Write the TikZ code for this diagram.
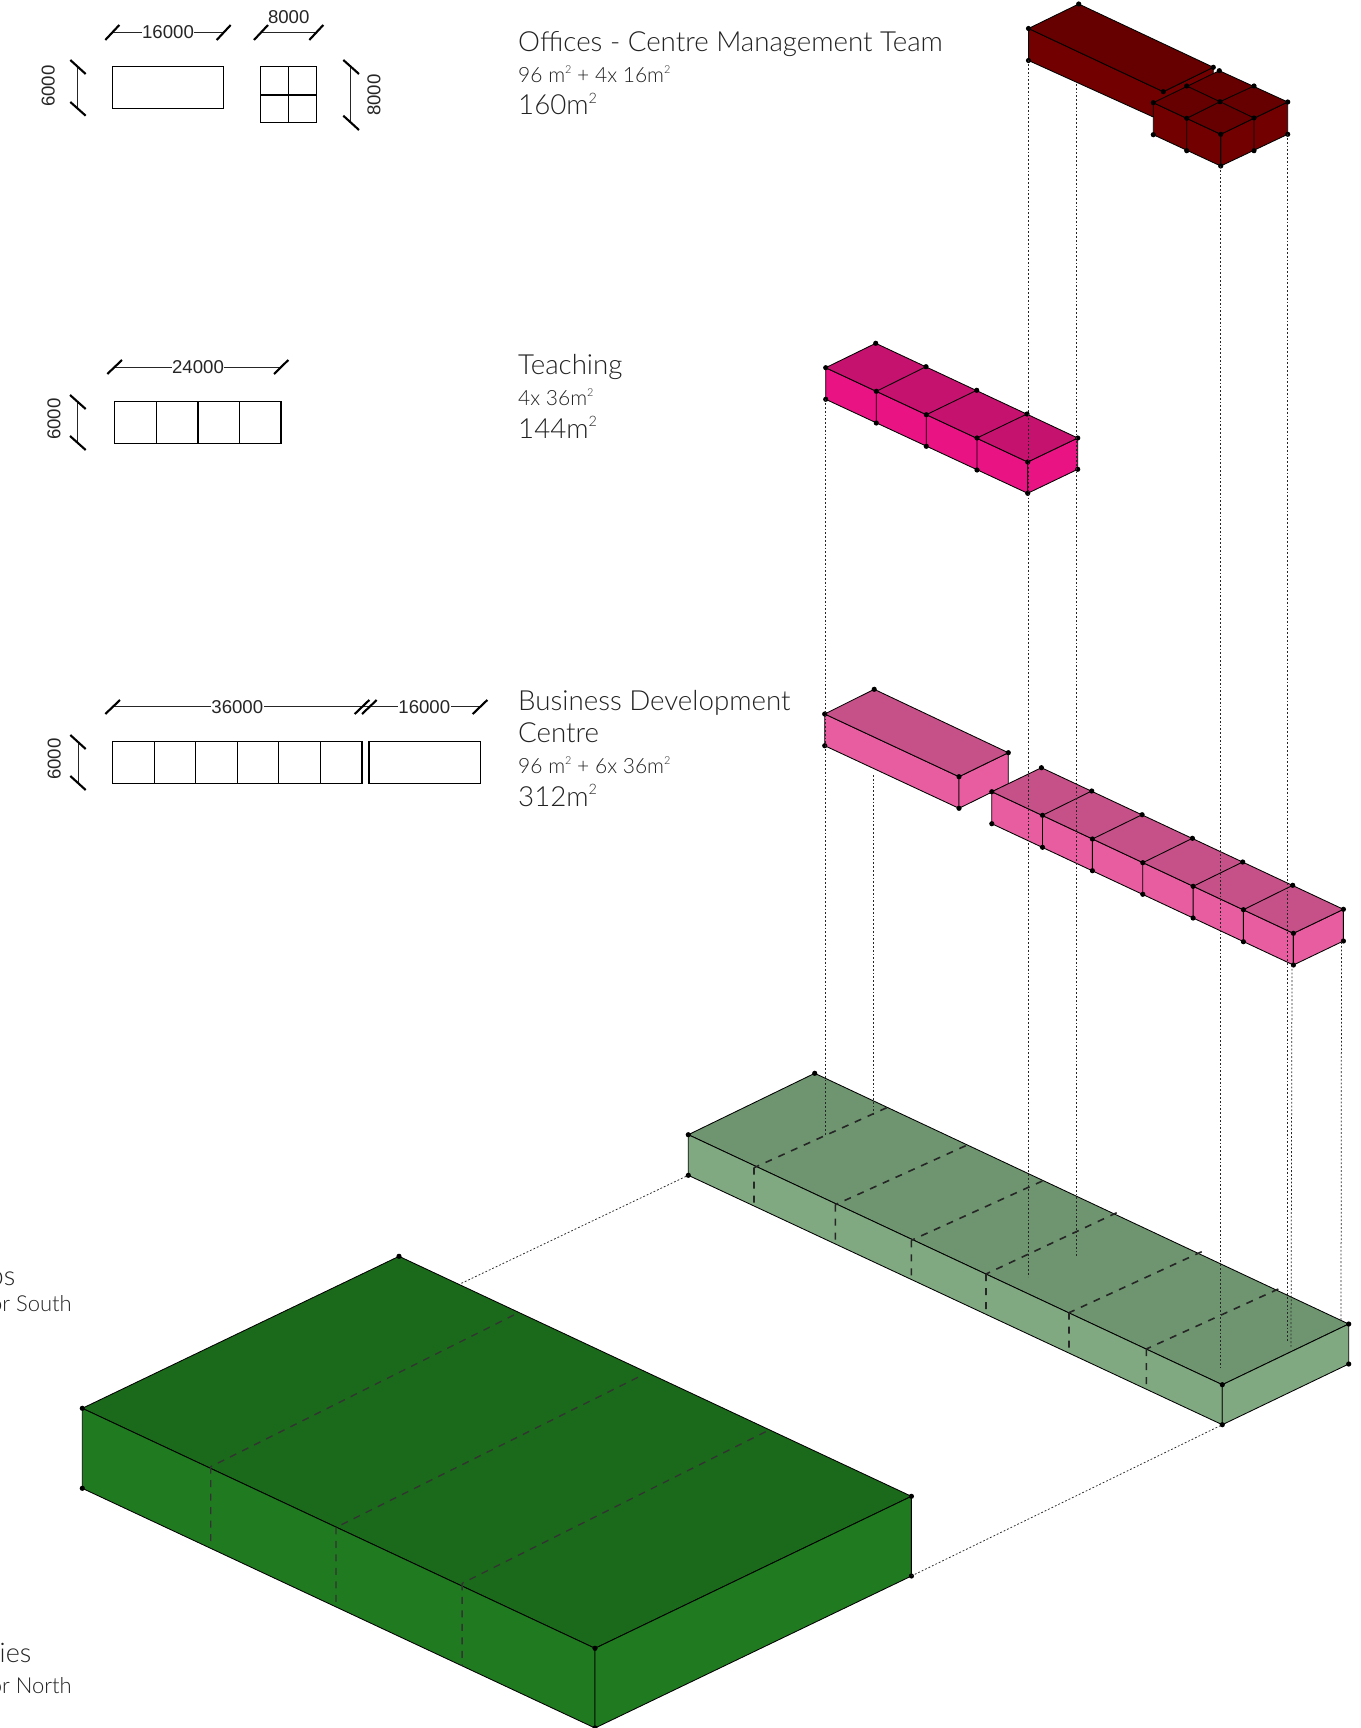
\documentclass[tikz,border=0pt]{standalone}
\usepackage{fontspec}
\setmainfont{Lato Light}
\newfontfamily\dimfont{Liberation Sans}
\definecolor{txtc}{HTML}{222222}
\definecolor{redtop}{HTML}{660000}
\definecolor{redside}{HTML}{730000}
\definecolor{magtop}{HTML}{C6126F}
\definecolor{magside}{HTML}{E91384}
\definecolor{pinktop}{HTML}{C55188}
\definecolor{pinkside}{HTML}{E75DA0}
\definecolor{sagetop}{HTML}{6E9470}
\definecolor{sageside}{HTML}{80A981}
\definecolor{greentop}{HTML}{1B691B}
\definecolor{greenside}{HTML}{207A20}
\newcommand{\sqm}{\raisebox{0.42em}{\scalebox{0.52}{2}}}
\newcommand{\dotmarks}[1]{\foreach \p in {#1}{\fill[black] (\p) circle (2.6);}}
\tikzset{
  edge/.style={draw=black,line width=0.85pt,line join=round},
  plan/.style={draw=black,line width=1.35pt,fill=white},
  dimline/.style={draw=black!85,line width=1.1pt},
  dimtick/.style={draw=black,line width=2.1pt},
  dimtxt/.style={font=\dimfont\fontsize{18.6}{20}\selectfont,text=black!85,fill=white,inner sep=0.5pt},
  dimtxtnf/.style={font=\dimfont\fontsize{18.6}{20}\selectfont,text=black!85,inner sep=0pt},
  title/.style={anchor=base west,inner sep=0pt,text=txtc,font=\fontsize{27.7}{30}\selectfont},
  subt/.style={anchor=base west,inner sep=0pt,text=txtc,font=\fontsize{21}{24}\selectfont},
  atitle/.style={anchor=base east,inner sep=0pt,text=txtc,font=\fontsize{27}{30}\selectfont},
  asub/.style={anchor=base east,inner sep=0pt,text=txtc,font=\fontsize{22}{24}\selectfont},
  projline/.style={draw=black!85,line width=0.75pt,dash pattern=on 1.8pt off 2pt},
  hiddenline/.style={draw=black!85,line width=1.6pt,dash pattern=on 7pt off 7pt},
  hiddendark/.style={draw=black!80,line width=1.3pt,dash pattern=on 7pt off 6.5pt}
}
\begin{document}
\begin{tikzpicture}[x=1pt,y=-1pt]
\useasboundingbox (0,0) rectangle (1360,1728);
\fill[white] (0,0) rectangle (1360,1728);
% ---------- plans and dimensions: row 1
\draw[plan] (112.3,66.7) rectangle (223.7,108.3);
\draw[plan] (260.7,66.7) rectangle (316.7,122.7);
\draw[plan] (288.7,66.7) -- (288.7,122.7) (260.7,95) -- (316.7,95);
\draw[dimline] (112.3,32.3) -- (223.7,32.3);
\draw[dimtick] (105.3,40) -- (119.3,25) (216.7,40) -- (230.7,25);
\node[dimtxt] (d16a) at (168,32.3) {16000};
\draw[dimline] (260.7,32.3) -- (316.7,32.3);
\draw[dimtick] (254,40) -- (268,25) (309.3,40) -- (323.3,25);
\node[dimtxtnf] (d8a) at (288.7,16.7) {8000};
\draw[dimline] (77.3,66.7) -- (77.3,108.3);
\draw[dimtick] (70.3,60) -- (85.7,74) (70.3,102) -- (85.7,115.7);
\node[dimtxtnf,rotate=90] (d6a) at (48.3,86) {6000};
\draw[dimline] (350.7,66.7) -- (350.7,122.7);
\draw[dimtick] (343.3,60) -- (359,74) (343.3,115.7) -- (359,130);
\node[dimtxtnf,rotate=90] (d8b) at (374,95) {8000};
% row 2
\draw[plan] (114.3,401.7) rectangle (281,443.7);
\draw[plan] (156.3,401.7) -- (156.3,443.7) (198,401.7) -- (198,443.7) (239.7,401.7) -- (239.7,443.7);
\draw[dimline] (114.3,367.3) -- (281,367.3);
\draw[dimtick] (107.3,374) -- (122,360) (274,374) -- (288.3,360);
\node[dimtxt] (d24) at (198,367.3) {24000};
\draw[dimline] (77.7,402) -- (77.7,443);
\draw[dimtick] (70,395) -- (85.7,409) (70,436) -- (85.7,450);
\node[dimtxtnf,rotate=90] (d6b) at (54,419.3) {6000};
% row 3
\draw[plan] (112.3,741.7) rectangle (362,783.3);
\draw[plan] (154.3,741.7) -- (154.3,783.3) (195.7,741.7) -- (195.7,783.3) (237.3,741.7) -- (237.3,783.3) (278.7,741.7) -- (278.7,783.3) (320.3,741.7) -- (320.3,783.3);
\draw[plan] (369,741.7) rectangle (480.3,783.3);
\draw[dimline] (112.3,706.7) -- (480,706.7);
\draw[dimtick] (105.3,714) -- (120,700) (354.7,714) -- (369.3,700) (362,714) -- (376.7,700) (472.7,714) -- (487.3,700);
\node[dimtxt] (d36) at (237.3,706.7) {36000};
\node[dimtxt] (d16b) at (424.3,706.7) {16000};
\draw[dimline] (78.3,741.7) -- (78.3,783.3);
\draw[dimtick] (70.3,735) -- (85.7,749) (70.3,776) -- (85.7,790);
\node[dimtxtnf,rotate=90] (d6c) at (54.3,759) {6000};
% ---------- captions
\node[title] (t1) at (518,51.5) {Offices - Centre Management Team};
\node[subt] (t1a) at (518,82.7) {96 m\sqm{} + 4x 16m\sqm};
\node[title] (t1b) at (518,115) {160m\sqm};
\node[title] (t2) at (518,374.5) {Teaching};
\node[subt] (t2a) at (518,405.5) {4x 36m\sqm};
\node[title] (t2b) at (518,438) {144m\sqm};
\node[title] (t3) at (518,710.7) {Business Development};
\node[title] (t3c) at (518,742.6) {Centre};
\node[subt] (t3a) at (518,773.6) {96 m\sqm{} + 6x 36m\sqm};
\node[title] (t3b) at (518,806) {312m\sqm};
\node[atitle] (t4) at (15.5,1285.5) {ps};
\node[asub] (t4a) at (72,1311.5) {or South};
\node[atitle] (t5) at (31.5,1662.5) {ies};
\node[asub] (t5a) at (72,1693.8) {or North};
% ---------- dark green block
\coordinate (gA) at (82.3,1408.3); \coordinate (gAl) at (82.3,1488.3);
\coordinate (gB) at (399,1256.3); \coordinate (gC) at (911.4,1496.3);
\coordinate (gCl) at (911.4,1576); \coordinate (gD) at (595,1648.3);
\coordinate (gDl) at (595,1728);
\coordinate (gLink) at (461.4,1283.3);
\draw[edge,fill=greentop] (gA) -- (gB) -- (gC) -- (gD) -- cycle;
\draw[edge,fill=greenside] (gA) -- (gD) -- (gDl) -- (gAl) -- cycle;
\draw[edge,fill=greenside] (gD) -- (gC) -- (gCl) -- (gDl) -- cycle;
\draw[hiddendark] (210.7,1466.7) -- (210.7,1547.3) (513.9,1315) -- (210.7,1466.7);
\draw[hiddendark] (336,1527.4) -- (336,1606.7) (637.9,1377.3) -- (336,1527.4);
\draw[hiddendark] (462.1,1583.3) -- (462.1,1665.7) (765.7,1431.7) -- (462.1,1583.3);
\dotmarks{gA,gAl,gB,gC,gCl,gD,gDl}
% ---------- sage block
\coordinate (sA) at (688.3,1134.7); \coordinate (sAl) at (688.3,1175.3);
\coordinate (sB) at (814.7,1073.3); \coordinate (sC) at (1348.7,1324);
\coordinate (sCl) at (1348.7,1364); \coordinate (sD) at (1222.3,1384.7);
\coordinate (sDl) at (1222.3,1424.7);
\draw[edge,fill=sagetop] (sA) -- (sB) -- (sC) -- (sD) -- cycle;
\draw[edge,fill=sageside] (sA) -- (sD) -- (sDl) -- (sAl) -- cycle;
\draw[edge,fill=sageside] (sD) -- (sC) -- (sCl) -- (sDl) -- cycle;
\draw[hiddenline] (754,1167.7) -- (754,1209.3) (886.7,1107.7) -- (754,1167.7);
\draw[hiddenline] (835.3,1204.7) -- (835.3,1243.3) (965.7,1145.7) -- (835.3,1204.7);
\draw[hiddenline] (911.3,1240.3) -- (911.3,1282.3) (1042.3,1181) -- (911.3,1240.3);
\draw[hiddenline] (986,1274) -- (986,1313.3) (1116.7,1212.7) -- (986,1274);
\draw[hiddenline] (1069,1312.7) -- (1069,1353.3) (1201.7,1251.7) -- (1069,1312.7);
\draw[hiddenline] (1146.3,1349) -- (1146.3,1390) (1278.3,1289) -- (1146.3,1349);
\dotmarks{sA,sAl,sB,sC,sCl,sD,sDl}
% ---------- dark red offices
\coordinate (rA) at (1028.5,28.5); \coordinate (rAl) at (1028.5,60.5);
\coordinate (rB) at (1078.7,4); \coordinate (rC) at (1213.3,67.3);
\coordinate (rD) at (1163.3,91.7); \coordinate (rK) at (1076,84);
\draw[edge,fill=redside] (rA) -- (rD) -- (rC) -- (1213.3,80) -- (1153.3,117) -- (rAl) -- cycle;
\draw[edge,fill=redtop] (rA) -- (rB) -- (rC) -- (rD) -- cycle;
\dotmarks{rA,rAl,rB,rC,rD}
\coordinate (qL) at (1153.3,102.7); \coordinate (qLl) at (1153.3,134.7);
\coordinate (qB) at (1219.3,70.7); \coordinate (qR) at (1287.7,102);
\coordinate (qRl) at (1287.7,134.3); \coordinate (qF) at (1220.7,134.3);
\coordinate (qFl) at (1220.7,166); \coordinate (qM1) at (1186.7,118.3);
\coordinate (qM1l) at (1186.7,150.7); \coordinate (qM2) at (1254,118);
\coordinate (qM2l) at (1254,150.7); \coordinate (qT1) at (1186.7,86);
\coordinate (qT2) at (1254,86); \coordinate (qC) at (1220,101.7);
\draw[edge,fill=redside] (qL) -- (qF) -- (qFl) -- (qLl) -- cycle;
\draw[edge,fill=redside] (qF) -- (qR) -- (qRl) -- (qFl) -- cycle;
\draw[edge,fill=redtop] (qL) -- (qB) -- (qR) -- (qF) -- cycle;
\draw[edge] (qM1l) -- (qM1) -- (qC) -- (qT2) (qM2l) -- (qM2) -- (qC) -- (qT1) (qF) -- (qFl);
\dotmarks{qL,qLl,qB,qR,qRl,qF,qFl,qM1,qM1l,qM2,qM2l,qT1,qT2,qC}
% ---------- teaching
\coordinate (mA) at (825.7,367.7); \coordinate (mAl) at (825.7,399.3);
\coordinate (mB) at (875.7,343.3); \coordinate (mC) at (1077.7,438);
\coordinate (mCl) at (1077.7,469.3); \coordinate (mD) at (1027.7,462);
\coordinate (mDl) at (1027.7,493.3);
\coordinate (m1) at (876.3,391.3); \coordinate (m1l) at (876.3,423);
\coordinate (m2) at (926.3,414.7); \coordinate (m2l) at (926.3,446.3);
\coordinate (m3) at (977,438); \coordinate (m3l) at (977,470);
\coordinate (mb1) at (926,366.7); \coordinate (mb2) at (976.7,390.3); \coordinate (mb3) at (1027,414);
\draw[edge,fill=magside] (mA) -- (mD) -- (mDl) -- (mAl) -- cycle;
\draw[edge,fill=magside] (mD) -- (mC) -- (mCl) -- (mDl) -- cycle;
\draw[edge,fill=magtop] (mA) -- (mB) -- (mC) -- (mD) -- cycle;
\draw[edge] (m1l) -- (m1) -- (mb1) (m2l) -- (m2) -- (mb2) (m3l) -- (m3) -- (mb3);
\dotmarks{mA,mAl,mB,mC,mCl,mD,mDl,m1,m1l,m2,m2l,m3,m3l,mb1,mb2,mb3}
% ---------- business development, left part
\coordinate (pA) at (824.7,714); \coordinate (pAl) at (824.7,745.7);
\coordinate (pB) at (874.2,689.3); \coordinate (pC) at (1008.3,752.7);
\coordinate (pCl) at (1008.3,784); \coordinate (pD) at (959,776.7);
\coordinate (pDl) at (959,808.3); \coordinate (pK) at (873.3,775);
\draw[edge,fill=pinkside] (pA) -- (pD) -- (pDl) -- (pAl) -- cycle;
\draw[edge,fill=pinkside] (pD) -- (pC) -- (pCl) -- (pDl) -- cycle;
\draw[edge,fill=pinktop] (pA) -- (pB) -- (pC) -- (pD) -- cycle;
\dotmarks{pA,pAl,pB,pC,pD,pDl}
% ---------- business development, right part
\coordinate (nA) at (991.8,791.7); \coordinate (nAl) at (991.8,823.7);
\coordinate (nB) at (1041.4,767.7); \coordinate (nC) at (1343.4,909.3);
\coordinate (nCl) at (1343.4,941); \coordinate (nD) at (1293.4,933.3);
\coordinate (nDl) at (1293.4,965);
\coordinate (n1) at (1042.5,815.3); \coordinate (n1l) at (1042.5,847.3);
\coordinate (n2) at (1092.4,839); \coordinate (n2l) at (1092.4,870.7);
\coordinate (n3) at (1142.8,862.7); \coordinate (n3l) at (1142.8,894.3);
\coordinate (n4) at (1193.1,886.3); \coordinate (n4l) at (1193.1,918);
\coordinate (n5) at (1243.4,909.7); \coordinate (n5l) at (1243.4,941.7);
\coordinate (nb1) at (1091.7,791); \coordinate (nb2) at (1142.1,814.7);
\coordinate (nb3) at (1192.4,838.3); \coordinate (nb4) at (1242.7,862);
\coordinate (nb5) at (1292.7,885.3);
\draw[edge,fill=pinkside] (nA) -- (nD) -- (nDl) -- (nAl) -- cycle;
\draw[edge,fill=pinkside] (nD) -- (nC) -- (nCl) -- (nDl) -- cycle;
\draw[edge,fill=pinktop] (nA) -- (nB) -- (nC) -- (nD) -- cycle;
\draw[edge] (n1l) -- (n1) -- (nb1) (n2l) -- (n2) -- (nb2) (n3l) -- (n3) -- (nb3) (n4l) -- (n4) -- (nb4) (n5l) -- (n5) -- (nb5);
\dotmarks{nA,nAl,nB,nC,nCl,nD,nDl,n1,n1l,n2,n2l,n3,n3l,n4,n4l,n5,n5l,nb1,nb2,nb3,nb4,nb5}
% ---------- projection lines
\coordinate (e1) at (1028.5,1276.5); \coordinate (e2) at (1076,1257);
\coordinate (e3) at (1220.7,1367.7); \coordinate (e4) at (1287.7,1341.7);
\coordinate (e5) at (1291,1346.7); \coordinate (e6) at (1341,1322);
\coordinate (e7) at (825.7,1136); \coordinate (e8) at (873.3,1116.7);
\coordinate (s5) at (1292,965); \coordinate (s6) at (1341.5,942);
\draw[projline] (rAl) -- (e1);
\draw[projline] (rK) -- (e2);
\draw[projline] (qFl) -- (e3);
\draw[projline] (qRl) -- (e4);
\draw[projline] (s5) -- (e5);
\draw[projline] (s6) -- (e6);
\draw[projline] (mAl) -- (e7);
\draw[projline] (pK) -- (e8);
\draw[projline] (gLink) -- (sAl);
\draw[projline] (gCl) -- (sDl);
\end{tikzpicture}
\end{document}
